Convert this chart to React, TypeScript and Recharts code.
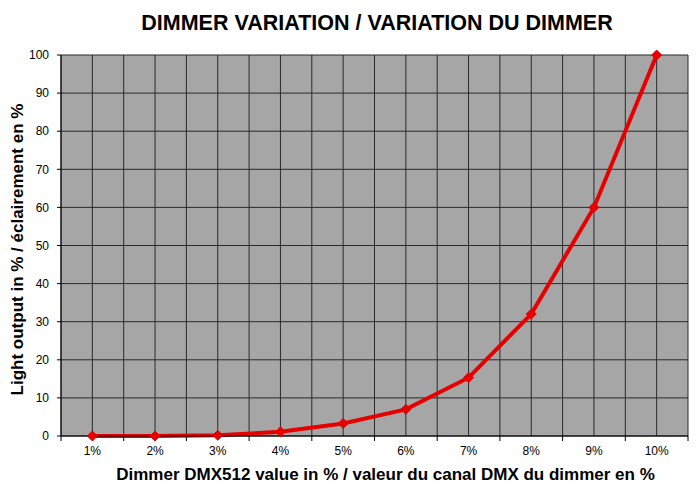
import React from 'react';
import { LineChart, Line, XAxis, YAxis, CartesianGrid, Label } from 'recharts';

// Dimmer curve: DMX channel value (%) vs. light output (%)
const categories = ['1%', '2%', '3%', '4%', '5%', '6%', '7%', '8%', '9%', '10%'];
const lightOutput = [0, 0, 0.2, 1.1, 3.3, 7, 15.3, 32, 60, 100];
const yTicks = [0, 10, 20, 30, 40, 50, 60, 70, 80, 90, 100];

const chartTitle = 'DIMMER VARIATION / VARIATION DU DIMMER';
const xTitle = 'Dimmer DMX512 value in % / valeur du canal DMX du dimmer en %';
const yTitle = 'Light output in % / éclairement en %';

const data = categories.map((label, i) => ({ x: i + 1, label, value: lightOutput[i] }));

// category centres carry labels, half steps carry tick marks and grid lines
const xTicks: number[] = [];
for (let i = 0; i <= categories.length * 2; i++) xTicks.push(0.5 + i * 0.5);

const FONT = '"Liberation Sans", Arial, Helvetica, sans-serif';

const XTick = (props: any) => {
  const { x, y, payload } = props;
  const v = payload.value as number;
  if (Number.isInteger(v)) {
    return (
      <text x={x} y={y + 19} textAnchor="middle" fontSize={12} fill="#000" fontFamily={FONT}>
        {categories[v - 1]}
      </text>
    );
  }
  return <line x1={x} x2={x} y1={y} y2={y + 5} stroke="#000" strokeWidth={1} />;
};

const Diamond = (props: any) => {
  const { cx, cy } = props;
  if (cx == null || cy == null) return null;
  const r = 5;
  return (
    <polygon
      points={`${cx},${cy - r} ${cx + r},${cy} ${cx},${cy + r} ${cx - r},${cy}`}
      fill="#E60000"
      stroke="#E60000"
    />
  );
};

export default function App() {
  return (
    <div style={{ position: 'relative', width: 692, height: 487, fontFamily: FONT }}>
      <div
        style={{
          position: 'absolute',
          left: 0,
          top: 3,
          width: 738,
          textAlign: 'center',
          fontSize: 21.5,
          fontWeight: 'bold',
          color: '#000',
          fontFamily: FONT,
          zIndex: 1,
        }}
      >
        {chartTitle}
      </div>
      <LineChart
        width={692}
        height={487}
        data={data}
        margin={{ top: 47, right: 12, left: 0, bottom: 0 }}
      >
        <CartesianGrid
          fill="#A6A6A6"
          fillOpacity={1}
          stroke="#2a2a2a"
          strokeWidth={1}
        />
        <XAxis
          dataKey="x"
          type="number"
          domain={[0.5, 10.5]}
          ticks={xTicks}
          interval={0}
          tick={<XTick />}
          tickLine={false}
          tickSize={0}
          tickMargin={0}
          height={59}
          axisLine={{ stroke: '#000' }}
          allowDataOverflow
        >
          <Label
            content={(p: any) => {
              const vb = p.viewBox;
              return (
                <text
                  x={vb.x + vb.width / 2 + 11}
                  y={vb.y + 44}
                  textAnchor="middle"
                  fontSize={17}
                  fontWeight="bold"
                  fill="#000"
                  fontFamily={FONT}
                >
                  {xTitle}
                </text>
              );
            }}
          />
        </XAxis>
        <YAxis
          type="number"
          domain={[0, 100]}
          ticks={yTicks}
          interval={0}
          width={53}
          tickSize={4}
          tickMargin={8}
          tick={{ fontSize: 12, fill: '#000', fontFamily: FONT }}
          tickLine={{ stroke: '#000' }}
          axisLine={{ stroke: '#000' }}
        >
          <Label
            content={(p: any) => {
              const vb = p.viewBox;
              const cx = vb.x + 15;
              const cy = vb.y + vb.height / 2 + 4;
              return (
                <text
                  x={cx}
                  y={cy}
                  transform={`rotate(-90 ${cx} ${cy})`}
                  textAnchor="middle"
                  fontSize={17}
                  fontWeight="bold"
                  fill="#000"
                  fontFamily={FONT}
                >
                  {yTitle}
                </text>
              );
            }}
          />
        </YAxis>
        <Line
          type="linear"
          dataKey="value"
          stroke="#E60000"
          strokeWidth={4}
          dot={<Diamond />}
          activeDot={false}
          isAnimationActive={false}
        />
      </LineChart>
    </div>
  );
}
